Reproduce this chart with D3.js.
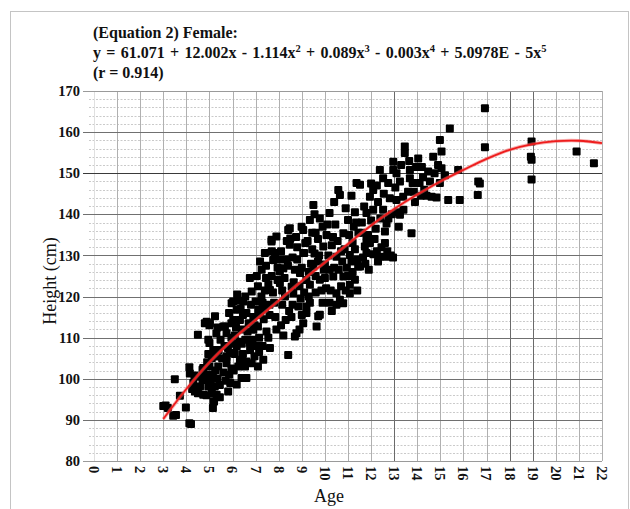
<!DOCTYPE html>
<html>
<head>
<meta charset="utf-8">
<script src="https://cdn.jsdelivr.net/npm/d3@7"></script>
<style>
  body { margin: 0; background: #fff; }
  svg { display: block; font-family: "Liberation Serif", "Times New Roman", serif; }
  .tick-label { font-weight: bold; font-size: 14.5px; fill: #111; }
  .title { font-weight: bold; font-size: 16px; fill: #111; }
  .axis-title { font-size: 18px; fill: #111; }
</style>
</head>
<body>
<div id="chart"></div>
<script>
// Female height vs age scatter with 5th order polynomial fit

const titleLines = ["(Equation 2) Female:", "EQ", "(r = 0.914)"];
const xTicks = d3.range(0, 23);
const yTicks = [80, 90, 100, 110, 120, 130, 140, 150, 160, 170];

// fitted curve
const curveAges    = [3, 4, 5, 6, 7, 8, 9, 10, 11, 12, 13, 14, 15, 16, 17, 18, 19, 20, 21, 22];
const curveHeights = [90.2, 97.5, 104, 109.5, 114.3, 119, 123.8, 128.3, 132.8, 137.3,
                      141.3, 144.8, 148, 150.8, 153.5, 155.7, 157.1, 157.8, 157.9, 157.3];

// [age, height cm]
const scatterPoints = [
  [3.0, 93.4], [3.2, 92.9], [3.43, 91.0], [3.5, 99.9], [3.1, 93.5], [3.72, 95.9], [3.98, 93.0], [3.55, 91.2],
  [4.13, 89.2], [4.2, 89.0], [4.13, 102.8], [4.15, 101.3], [4.3, 99.0], [4.25, 97.5], [4.37, 96.9],
  [4.35, 100.8], [4.5, 110.7], [4.5, 96.5],
  [4.7, 102.2], [4.7, 99.7], [4.73, 96.1], [4.87, 96.0], [4.8, 113.5], [4.88, 113.9], [4.73, 102.6],
  [4.8, 99.8], [4.59, 98.1], [4.95, 98.1], [4.9, 104], [4.95, 106], [5.0, 108.7],
  [4.6, 100.5], [4.85, 101], [5.05, 99.5], [5.25, 102], [5.4, 107], [5.45, 98.5], [5.1, 96.5],
  [4.95, 109.5], [5.35, 112.5],
  [5.17, 94.5], [5.15, 92.9], [5.24, 115.2], [5.0, 113.0], [5.0, 106], [5.1, 105], [5.0, 103],
  [5.02, 113.5], [5.17, 107], [5.31, 105.4], [5.38, 103], [5.23, 98.1], [5.31, 96.1], [5.2, 94.5],
  [5.45, 95.5], [5.48, 109.5], [5.15, 101], [5.35, 100], [5.3, 111],
  [5.6, 112.7], [5.74, 111.1], [5.74, 103.8], [5.89, 106.3], [5.81, 96.9], [5.96, 118.4], [5.67, 112.7],
  [5.6, 101.5], [5.9, 99], [5.65, 108], [5.55, 105], [5.85, 116], [5.95, 110], [5.95, 102.5], [5.8, 107.5],
  [5.7, 99.5], [5.75, 105.5], [5.95, 113.5], [5.85, 101],
  [6.03, 114.3], [6.03, 118.8], [6.18, 116.8], [6.32, 114.3], [6.46, 118.8], [6.18, 107.9], [6.32, 104.6],
  [6.18, 98.6], [6.39, 100.2], [6.1, 110.5], [6.4, 112], [6.2, 120.5], [6.45, 106], [6.05, 102],
  [6.3, 109], [6.35, 117], [6.1, 106], [6.25, 103], [6.0, 108.5], [6.15, 112.5], [6.4, 108.5],
  [6.3, 119], [6.45, 115.5],
  [6.54, 103], [6.6, 100.2], [6.83, 103.8], [6.76, 107], [6.9, 111.9], [6.75, 124.5], [6.83, 121.2],
  [7.0, 118.8], [6.6, 116], [6.7, 113.5], [6.55, 109.5], [6.95, 105.5], [6.55, 120], [6.9, 115],
  [6.75, 108.7], [6.6, 104.2], [6.65, 111.5], [6.8, 118], [6.95, 113], [6.85, 109.5],
  [7.1, 103], [7.11, 116.8], [7.19, 128.5], [7.26, 126.5], [7.1, 122.5], [7.4, 117.2], [7.4, 130.6],
  [7.47, 111.5], [7.1, 112.7], [7.3, 108], [7.25, 120], [7.45, 124.5], [7.35, 114.5], [7.15, 110],
  [7.33, 104.6], [7.05, 108], [7.2, 115.5], [7.3, 118.5], [7.15, 106.5], [7.4, 121.5], [7.05, 125],
  [7.45, 127.5],
  [7.6, 115.5], [7.62, 121.6], [7.69, 133.4], [7.84, 130.6], [7.9, 134.6], [7.69, 133.8], [7.76, 128.9],
  [7.62, 107.5], [7.7, 125], [7.8, 118.5], [7.9, 112], [7.55, 110], [7.55, 123], [7.95, 127],
  [7.6, 118], [7.75, 121], [7.85, 115], [7.95, 124], [7.7, 131],
  [8.05, 126.1], [8.27, 120], [8.3, 114.3], [8.41, 136.2], [8.48, 132.6], [8.2, 126.9], [8.05, 123.3],
  [8.48, 136.6], [8.5, 134.1], [8.41, 105.8], [8.15, 118], [8.35, 129], [8.45, 116.5], [8.2, 110.5],
  [8.1, 131], [8.05, 129], [8.15, 121.5], [8.25, 124.5], [8.35, 133.5], [8.4, 127.5], [8.1, 113],
  [8.56, 122.4], [8.7, 126.5], [8.85, 117.6], [8.9, 112], [8.77, 111.1], [8.63, 120.8], [8.99, 137],
  [8.92, 125.7], [8.7, 110.3], [8.6, 129.5], [8.8, 132], [8.75, 134.5], [8.55, 115], [8.95, 119.5],
  [8.65, 123.5], [8.8, 129], [8.9, 122.5], [8.6, 118],
  [9.06, 136.2], [9.1, 130.6], [9.2, 124], [9.2, 116], [9.2, 117.6], [9.06, 113.5], [9.35, 138.6],
  [9.5, 142.3], [9.35, 122.9], [9.5, 127.3], [9.06, 130.6], [9.3, 120], [9.25, 133.5], [9.4, 128],
  [9.45, 135.5], [9.55, 140], [9.0, 127], [9.15, 133], [9.3, 126], [9.45, 131.5], [9.1, 121],
  [9.35, 118.5], [9.0, 115.5],
  [9.78, 139], [9.6, 135.5], [9.78, 124.1], [9.78, 115.6], [9.64, 112.7], [9.71, 115.2], [9.93, 132.2],
  [9.7, 128.5], [9.6, 121], [9.9, 118.5], [9.95, 126.5], [9.55, 130.5], [9.9, 137],
  [9.6, 125], [9.75, 130], [9.85, 121.5], [9.7, 134],
  [10.2, 140.3], [10.07, 135], [10.2, 126.5], [10.5, 129.7], [10.36, 124.9], [10.5, 120.8], [10.5, 118],
  [10.3, 132.5], [10.45, 137.5], [10.05, 122], [10.3, 116.5], [10.0, 127.8], [10.4, 143],
  [10.0, 124.5], [10.15, 130], [10.25, 121.5], [10.4, 127], [10.1, 137.5], [10.35, 134.5], [10.2, 118.5],
  [10.58, 145.9], [10.65, 144.7], [10.8, 135.4], [10.8, 124.9], [10.79, 118.4], [11.0, 138.6],
  [10.65, 119.2], [10.7, 131], [10.95, 127], [10.9, 141.5], [10.9, 121.5], [10.55, 133.5],
  [10.6, 126.5], [10.75, 128.5], [10.85, 131.5], [10.7, 122.5],
  [11.08, 130.1], [11.08, 120.8], [11.3, 124.1], [11.08, 122.9], [11.37, 147.6], [11.44, 127.3],
  [11.25, 137], [11.2, 133], [11.3, 140.5], [11.4, 129], [11.2, 126], [11.45, 135.5], [11.15, 144.5],
  [11.0, 125], [11.15, 128.5], [11.3, 131.5], [11.4, 121.5], [11.05, 135], [11.35, 138],
  [11.52, 147.2], [11.52, 127.3], [11.8, 140.3], [11.73, 132.2], [11.87, 135], [11.8, 130.6],
  [11.95, 133], [11.8, 133.8], [11.7, 141.9], [11.95, 144.3], [11.6, 138], [11.65, 129.5],
  [11.6, 135.5], [11.75, 128], [11.9, 126.5],
  [12.09, 145.9], [12.09, 141.1], [12.38, 150.8], [12.38, 129.7], [12.1, 130.3], [12.25, 131],
  [12.2, 136.5], [12.4, 139], [12.3, 143], [12.25, 147], [12.0, 138.5], [12.15, 134], [12.3, 128.5],
  [12.45, 132], [12.0, 147.5],
  [12.52, 148.8], [12.67, 129.7], [12.6, 133], [12.52, 141.1], [12.67, 137.8], [12.6, 135.8],
  [12.74, 147.6], [12.81, 143.9], [12.96, 152.8], [12.96, 150.8], [12.85, 130], [12.95, 129.5], [12.9, 140],
  [12.75, 139], [12.55, 145], [12.7, 131],
  [13.46, 156.5], [13.46, 154.9], [13.25, 148.0], [13.1, 143.5], [13.39, 144.3], [13.25, 139.9],
  [13.4, 141.1], [13.2, 137], [13.1, 150], [13.05, 146.5], [13.3, 152], [13.15, 140.5],
  [13.68, 150.8], [13.68, 148.8], [13.8, 147.6], [13.75, 135.4], [13.6, 145.5], [13.9, 143], [13.95, 151.5],
  [13.65, 153], [13.85, 145.5],
  [14.04, 153.6], [14.47, 150.4], [14.1, 147.6], [14.3, 146], [14.25, 149], [14.4, 144.5],
  [14.2, 151.5], [14.15, 144.5],
  [14.69, 154], [14.62, 144.3], [14.83, 144.1], [14.98, 147.6], [14.98, 158.1], [14.75, 150],
  [14.55, 148], [14.9, 152],
  [15.05, 155.3], [15.05, 151.2], [15.41, 160.9], [15.34, 143.5], [15.2, 149.5],
  [15.77, 150.8], [15.84, 143.5],
  [16.62, 144.7], [16.64, 148.0], [16.71, 147.5], [16.93, 156.3], [16.93, 165.8],
  [18.95, 157.7], [18.92, 154.0], [18.95, 153.3], [18.95, 148.5],
  [20.9, 155.3], [21.65, 152.4]
];

const width = 630, height = 509;
const svg = d3.select("#chart").append("svg")
  .attr("width", width)
  .attr("height", height);

// outer frame
svg.append("rect")
  .attr("x", 10.5).attr("y", 11.5)
  .attr("width", 618).attr("height", 520)
  .attr("fill", "none")
  .attr("stroke", "#c4c4c4");

const plotLeft = 89, plotRight = 602;
const x = d3.scaleLinear().domain([0, 22]).range([94, 602]);
const y = d3.scaleLinear().domain([80, 170]).range([461, 91]);

// minor dotted grid every 2 cm
const minorY = d3.range(80, 171, 2).filter(v => v % 10 !== 0);
svg.append("g").selectAll("line")
  .data(minorY)
  .join("line")
  .attr("x1", plotLeft).attr("x2", plotRight)
  .attr("y1", d => Math.round(y(d)) + 0.5).attr("y2", d => Math.round(y(d)) + 0.5)
  .attr("stroke", "#bdbdbd")
  .attr("stroke-width", 0.8)
  .attr("stroke-dasharray", "2,1.5");

// vertical grid, one per year
const darkX = [13, 18, 19];
svg.append("g").selectAll("line")
  .data(xTicks)
  .join("line")
  .attr("x1", d => Math.round(x(d)) + 0.5).attr("x2", d => Math.round(x(d)) + 0.5)
  .attr("y1", y(170)).attr("y2", y(80))
  .attr("stroke", d => darkX.includes(d) ? "#6a6a6a" : (d === 0 ? "#e0e0e0" : "#b0b0b0"))
  .attr("stroke-width", 1);

// major horizontal grid + ticks
svg.append("g").selectAll("line")
  .data(yTicks)
  .join("line")
  .attr("x1", 83).attr("x2", plotRight)
  .attr("y1", d => Math.round(y(d)) + 0.5).attr("y2", d => Math.round(y(d)) + 0.5)
  .attr("stroke", d => d === 150 ? "#3a3a3a" : (d === 80 || d === 170 ? "#9a9a9a" : "#707070"))
  .attr("stroke-width", 1);

// y tick labels
svg.append("g").selectAll("text")
  .data(yTicks)
  .join("text")
  .attr("class", "tick-label")
  .attr("x", 80)
  .attr("y", d => y(d))
  .attr("dy", "0.35em")
  .attr("text-anchor", "end")
  .text(d => d);

// x tick labels, rotated
svg.append("g").selectAll("text")
  .data(xTicks)
  .join("text")
  .attr("class", "tick-label")
  .attr("transform", d => `translate(${x(d)},466) rotate(90)`)
  .attr("dy", "0.35em")
  .attr("text-anchor", "start")
  .text(d => d);

// points
const size = 8;
svg.append("g").selectAll("rect")
  .data(scatterPoints)
  .join("rect")
  .attr("x", d => x(d[0]) - size / 2)
  .attr("y", d => y(d[1]) - size / 2)
  .attr("width", size).attr("height", size)
  .attr("rx", 1)
  .attr("fill", "#000");

// fitted curve
const curveData = curveAges.map((a, i) => [a, curveHeights[i]]);
const line = d3.line()
  .x(d => x(d[0]))
  .y(d => y(d[1]))
  .curve(d3.curveCatmullRom);

svg.append("path")
  .datum(curveData)
  .attr("d", line)
  .attr("fill", "none")
  .attr("stroke", "#f26060")
  .attr("stroke-opacity", 0.5)
  .attr("stroke-width", 3.5);

svg.append("path")
  .datum(curveData)
  .attr("d", line)
  .attr("fill", "none")
  .attr("stroke", "#ee1c1c")
  .attr("stroke-width", 1.8);

// titles
const titleG = svg.append("g");
titleG.append("text").attr("class", "title").attr("x", 93).attr("y", 38).text(titleLines[0]);

const eq = titleG.append("text").attr("class", "title")
  .attr("x", 93).attr("y", 58)
  .style("word-spacing", "1.3px");
const eqParts = [
  ["y = 61.071 + 12.002x - 1.114x", null], ["2", "sup"],
  [" + 0.089x", null], ["3", "sup"],
  [" - 0.003x", null], ["4", "sup"],
  [" + 5.0978E - 5x", null], ["5", "sup"]
];
eqParts.forEach(([t, kind]) => {
  const ts = eq.append("tspan").text(t);
  if (kind === "sup") ts.attr("dy", -6).style("font-size", "10.5px");
  else ts.attr("dy", eq.selectAll("tspan").size() > 1 ? 6 : 0);
});

titleG.append("text").attr("class", "title").attr("x", 93).attr("y", 78).text(titleLines[2]);

// axis titles
svg.append("text")
  .attr("class", "axis-title")
  .attr("transform", `translate(56,${(y(80) + y(170)) / 2 + 5}) rotate(-90)`)
  .attr("text-anchor", "middle")
  .text("Height (cm)");

svg.append("text")
  .attr("class", "axis-title")
  .attr("x", 329)
  .attr("y", 502)
  .attr("text-anchor", "middle")
  .text("Age");
</script>
</body>
</html>
